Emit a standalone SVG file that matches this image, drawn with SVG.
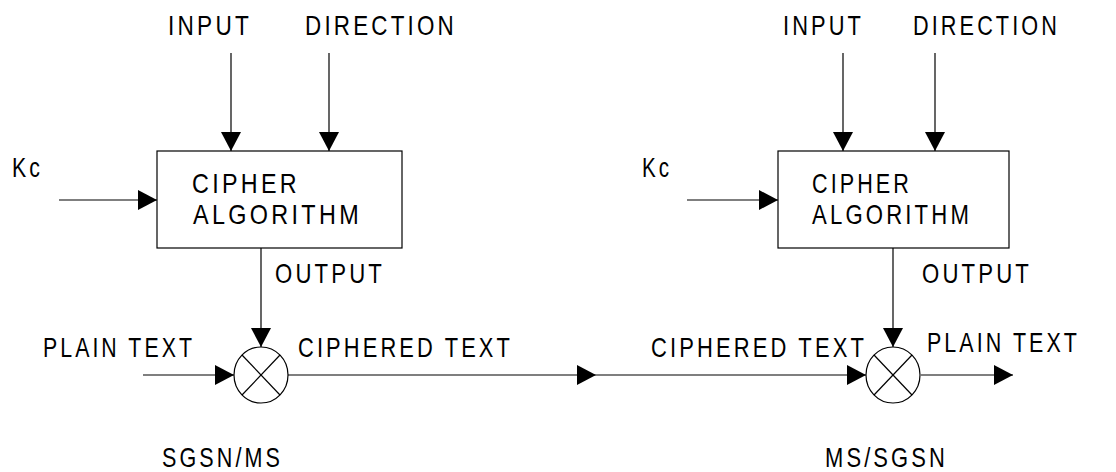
<svg xmlns="http://www.w3.org/2000/svg" width="1116" height="472" viewBox="0 0 1116 472">
<style>
text{font-family:"Liberation Sans",Arial,sans-serif;font-size:28px;letter-spacing:4px;fill:#000}
.ln{stroke:#000;stroke-width:1.2;fill:none}
.bx{stroke:#000;stroke-width:1.2;fill:#fff}
</style>
<defs>
<marker id="ah" markerUnits="userSpaceOnUse" markerWidth="20" markerHeight="20" refX="19" refY="10" orient="auto" viewBox="0 0 20 20">
<path d="M0,0 L19,10 L0,20 z" fill="#000"/>
</marker>
</defs>
<g id="connectors">
<line class="ln" x1="231" y1="53" x2="231" y2="151" marker-end="url(#ah)"/>
<line class="ln" x1="329" y1="53" x2="329" y2="151" marker-end="url(#ah)"/>
<line class="ln" x1="59" y1="200" x2="157" y2="200" marker-end="url(#ah)"/>
<line class="ln" x1="261" y1="248" x2="261" y2="347" marker-end="url(#ah)"/>
<line class="ln" x1="143" y1="375" x2="234" y2="375" marker-end="url(#ah)"/>
<line class="ln" x1="288" y1="375" x2="596" y2="375" marker-end="url(#ah)"/>
<line class="ln" x1="596" y1="375" x2="866" y2="375" marker-end="url(#ah)"/>
<line class="ln" x1="843" y1="53" x2="843" y2="151" marker-end="url(#ah)"/>
<line class="ln" x1="935" y1="53" x2="935" y2="151" marker-end="url(#ah)"/>
<line class="ln" x1="687" y1="200" x2="778" y2="200" marker-end="url(#ah)"/>
<line class="ln" x1="893" y1="248" x2="893" y2="347" marker-end="url(#ah)"/>
<line class="ln" x1="921" y1="375" x2="1013" y2="375" marker-end="url(#ah)"/>
</g>
<g id="cipher-left">
<rect class="bx" x="157" y="151" width="245" height="97"/>
<text x="192" y="193" textLength="108" lengthAdjust="spacingAndGlyphs">CIPHER</text>
<text x="193" y="224" textLength="169" lengthAdjust="spacingAndGlyphs">ALGORITHM</text>
</g>
<g id="xor-left">
<ellipse class="bx" cx="261" cy="375" rx="27" ry="28"/>
<line class="ln" x1="242" y1="355" x2="280" y2="395"/>
<line class="ln" x1="280" y1="355" x2="242" y2="395"/>
</g>
<g id="cipher-right">
<rect class="bx" x="778" y="151" width="231" height="97"/>
<text x="812" y="193" textLength="100" lengthAdjust="spacingAndGlyphs">CIPHER</text>
<text x="812" y="224" textLength="160" lengthAdjust="spacingAndGlyphs">ALGORITHM</text>
</g>
<g id="xor-right">
<ellipse class="bx" cx="893" cy="375" rx="27" ry="28"/>
<line class="ln" x1="874" y1="355" x2="912" y2="395"/>
<line class="ln" x1="912" y1="355" x2="874" y2="395"/>
</g>
<g id="labels">
<text x="168" y="35" textLength="84" lengthAdjust="spacingAndGlyphs">INPUT</text>
<text x="305" y="35" textLength="152" lengthAdjust="spacingAndGlyphs">DIRECTION</text>
<text x="12" y="177" textLength="31" lengthAdjust="spacingAndGlyphs">Kc</text>
<text x="275" y="283" textLength="110" lengthAdjust="spacingAndGlyphs">OUTPUT</text>
<text x="43" y="357" textLength="152" lengthAdjust="spacingAndGlyphs">PLAIN TEXT</text>
<text x="298" y="357" textLength="215" lengthAdjust="spacingAndGlyphs">CIPHERED TEXT</text>
<text x="162" y="467" textLength="121" lengthAdjust="spacingAndGlyphs">SGSN/MS</text>
<text x="783" y="35" textLength="81" lengthAdjust="spacingAndGlyphs">INPUT</text>
<text x="913" y="35" textLength="147" lengthAdjust="spacingAndGlyphs">DIRECTION</text>
<text x="642" y="177" textLength="30" lengthAdjust="spacingAndGlyphs">Kc</text>
<text x="922" y="283" textLength="110" lengthAdjust="spacingAndGlyphs">OUTPUT</text>
<text x="651" y="357" textLength="216" lengthAdjust="spacingAndGlyphs">CIPHERED TEXT</text>
<text x="927" y="352" textLength="153" lengthAdjust="spacingAndGlyphs">PLAIN TEXT</text>
<text x="825" y="467" textLength="123" lengthAdjust="spacingAndGlyphs">MS/SGSN</text>
</g>
</svg>
